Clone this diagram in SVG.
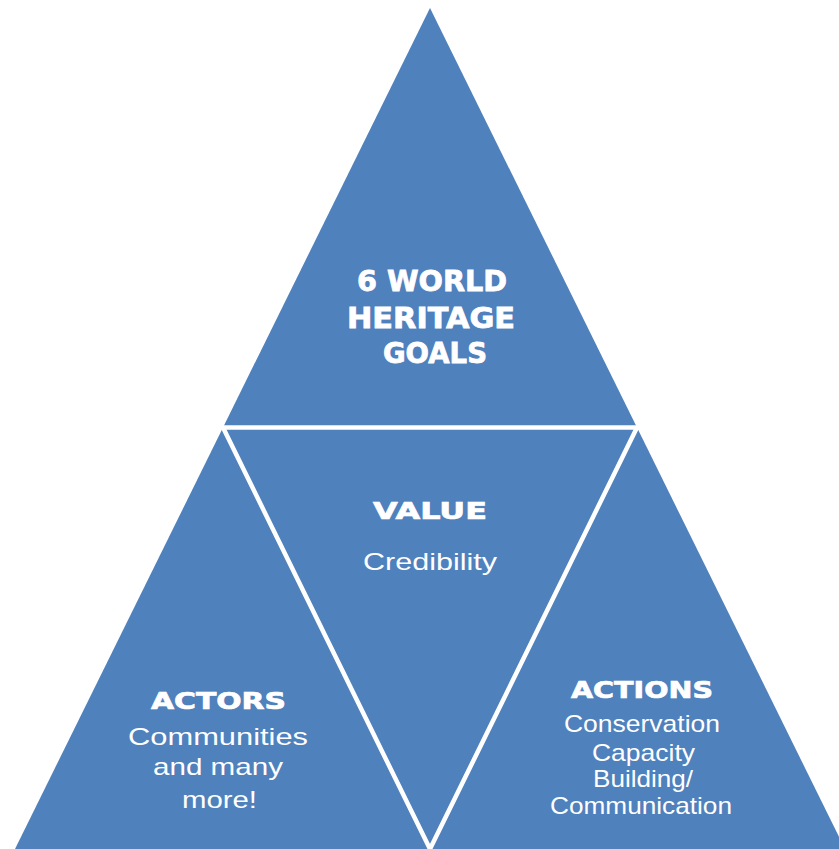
<svg xmlns="http://www.w3.org/2000/svg" width="839" height="849" viewBox="0 0 839 849">
<style>
.tri{fill:#4F81BD;stroke:none}
.sep{fill:none;stroke:#FFFFFF;stroke-width:4.5;stroke-linejoin:miter}
text{fill:#FFFFFF;font-family:"Liberation Sans",Arial,sans-serif;text-anchor:middle}
.h{font-family:"DejaVu Sans","Liberation Sans",sans-serif;font-weight:bold;font-size:23px;stroke:#FFFFFF;stroke-width:0.7}
.g{font-family:"DejaVu Sans","Liberation Sans",sans-serif;font-weight:bold;font-size:28.5px;stroke:#FFFFFF;stroke-width:0.8}
.r{font-size:24px}
</style>
<rect x="0" y="0" width="839" height="849" fill="#FFFFFF"/>
<g id="goals">
<polygon class="tri" points="430,8 223,427.5 637,427.5"/>
<text class="g" x="432" y="291" textLength="150" lengthAdjust="spacingAndGlyphs">6 WORLD</text>
<text class="g" x="431" y="328" textLength="168" lengthAdjust="spacingAndGlyphs">HERITAGE</text>
<text class="g" x="435" y="363" textLength="104" lengthAdjust="spacingAndGlyphs">GOALS</text>
</g>
<g id="actors">
<polygon class="tri" points="223,427.5 15,849 430,849"/>
<text class="h" x="218.5" y="709" textLength="135" lengthAdjust="spacingAndGlyphs">ACTORS</text>
<text class="r" x="218" y="745" textLength="180" lengthAdjust="spacingAndGlyphs">Communities</text>
<text class="r" x="218" y="775" textLength="130" lengthAdjust="spacingAndGlyphs">and many</text>
<text class="r" x="219.5" y="808" textLength="75" lengthAdjust="spacingAndGlyphs">more!</text>
</g>
<g id="value">
<polygon class="tri" points="223,427.5 637,427.5 430,849"/>
<text class="h" x="430" y="519" textLength="114" lengthAdjust="spacingAndGlyphs">VALUE</text>
<text class="r" x="430" y="570" font-size="26" textLength="134" lengthAdjust="spacingAndGlyphs">Credibility</text>
</g>
<g id="actions">
<polygon class="tri" points="637,427.5 430,849 845,849"/>
<text class="h" x="642" y="698" textLength="142" lengthAdjust="spacingAndGlyphs">ACTIONS</text>
<text class="r" x="642" y="732" font-size="23" textLength="156" lengthAdjust="spacingAndGlyphs">Conservation</text>
<text class="r" x="643.5" y="761" font-size="23" textLength="103" lengthAdjust="spacingAndGlyphs">Capacity</text>
<text class="r" x="643" y="787" font-size="23" textLength="100" lengthAdjust="spacingAndGlyphs">Building/</text>
<text class="r" x="641" y="814" font-size="23" textLength="182" lengthAdjust="spacingAndGlyphs">Communication</text>
</g>
<g id="separators">
<line class="sep" x1="205" y1="427.5" x2="655" y2="427.5" stroke-width="5"/>
<polyline class="sep" points="223,427.5 430,849 637,427.5"/>
</g>
</svg>
